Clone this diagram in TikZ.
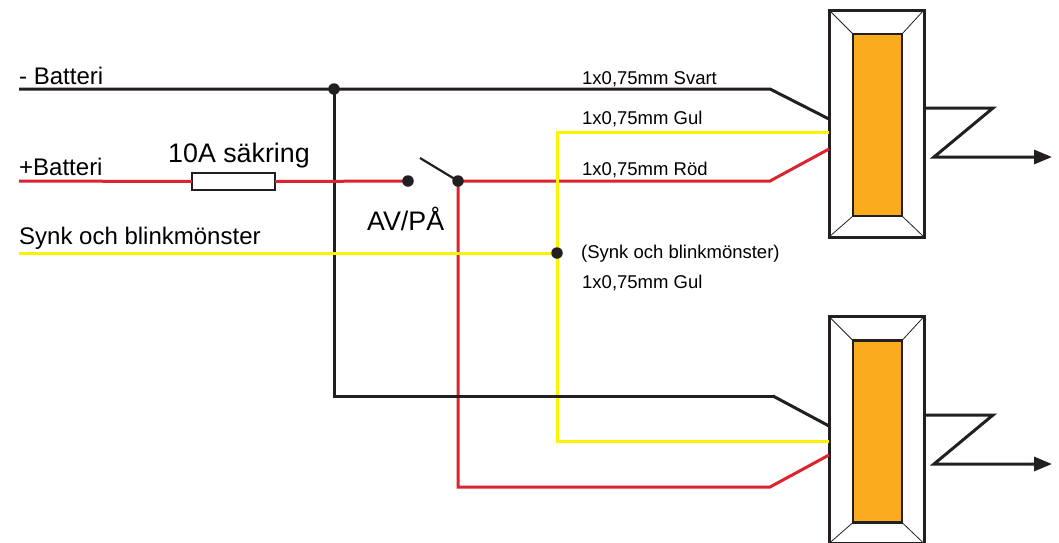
\documentclass[tikz,border=0pt]{standalone}
\usepackage{fontspec}
\setmainfont{Liberation Sans}
\usetikzlibrary{arrows.meta}
\definecolor{wireblack}{RGB}{35,31,32}
\definecolor{wirered}{RGB}{218,37,46}
\definecolor{wireyellow}{RGB}{255,242,0}
\definecolor{lamporange}{RGB}{251,171,30}
\tikzset{
  wire/.style={line width=3pt,line join=miter},
  blackwire/.style={wire,wireblack},
  redwire/.style={wire,wirered},
  yellowwire/.style={wire,wireyellow},
  junction/.style={circle,fill=wireblack,inner sep=0pt,minimum size=11.5pt},
  lampbox/.style={draw=wireblack,line width=3pt,fill=white,minimum width=95pt,minimum height=227pt,inner sep=0pt,outer sep=0pt},
  lampcore/.style={draw=wireblack,line width=2.2pt,fill=lamporange,minimum width=49pt,minimum height=182pt,inner sep=0pt,outer sep=0pt},
  fusebox/.style={draw=wireblack,line width=2pt,fill=white,minimum width=83pt,minimum height=17pt,inner sep=0pt,outer sep=0pt},
  sidetext/.style={font=\fontsize{24}{28}\selectfont,inner sep=0pt,anchor=base west},
  bigtext/.style={font=\fontsize{26.8}{30}\selectfont,inner sep=0pt,anchor=base west},
  smalltext/.style={font=\fontsize{18.5}{22}\selectfont,inner sep=0pt,anchor=base west}
}
\begin{document}
\begin{tikzpicture}[x=1pt,y=-1pt]
\useasboundingbox (0,0) rectangle (1059,542);
\clip (0,0) rectangle (1059,542);
% lamps
\foreach \n/\y in {1/123.5,2/430}{
\node[lampbox] (lamp\n) at (876.5,\y) {};
\node[lampcore] (core\n) at (877.5,\y+1.5) {};
\foreach \c in {north west,north east,south west,south east}
\draw[wireblack,line width=0.8pt] (lamp\n.\c) -- (core\n.\c);
}
% coordinates
\coordinate (negin) at (19,89);
\coordinate (negjoin) at (334,89);
\coordinate (negbend) at (770,89);
\coordinate (negend) at (829,119);
\coordinate (negcorner) at (334,396);
\coordinate (posin) at (19,181);
\coordinate (posbend) at (770,181);
\coordinate (posend) at (829,149);
\coordinate (syncin) at (19,253);
\coordinate (syncjoin) at (557,253);
\coordinate (gulend) at (829,132);
\coordinate (gulendb) at (829,441);
\coordinate (negbendb) at (773,396);
\coordinate (negendb) at (829,426);
\coordinate (posbendb) at (770,487);
\coordinate (posendb) at (829,455);
\coordinate (swin) at (408,181);
\coordinate (swout) at (458,181);
\coordinate (swarm) at (420,158);
\node[fusebox] (fuse) at (233.5,181.5) {};
% wires
\draw[blackwire] (negin) -- (negbend) -- (negend);
\draw[blackwire] (negjoin) -- (negcorner);
\draw[redwire] (posin) -- (fuse.west);
\draw[redwire] (fuse.east) -- (swin);
\draw[redwire] (swout) -- (posbend) -- (posend);
\draw[redwire] (swout) |- (posbendb) -- (posendb);
\draw[yellowwire] (syncin) -- (syncjoin);
\draw[yellowwire] (gulend) -| (syncjoin) |- (gulendb);
\draw[blackwire,line cap=rect] (negcorner) -- (negbendb);
\draw[blackwire] (negbendb) -- (negendb);
\draw[wireblack,line width=2.2pt] (swarm) -- (swout);
\node[junction] (negdot) at (negjoin) {};
\node[junction] (swa) at (swin) {};
\node[junction] (swb) at (swout) {};
\node[junction] (syncdot) at (syncjoin) {};
% light beams
\foreach \n/\y in {1/108,2/415}{
\coordinate (beamb\n) at (993,\y);
\coordinate (beamc\n) at (934,\y+49);
\coordinate (beamd\n) at (1052,\y+49);
\draw[blackwire,-{Triangle[length=18pt,width=14pt]}] (lamp\n.east |- beamb\n) -- (beamb\n) -- (beamc\n) -- (beamd\n);
}
% labels
\node[sidetext] (lblneg) at (19,84) {- Batteri};
\node[sidetext] (lblpos) at (19,175) {+Batteri};
\node[bigtext] (lblfuse) at (168,162) {10A säkring};
\node[bigtext] (lblsw) at (367,230) {AV/PÅ};
\node[sidetext] (lblsync) at (19,244) {Synk och blinkmönster};
\node[smalltext] (lblsvart) at (582,84) {1x0,75mm Svart};
\node[smalltext] (lblgula) at (582,124) {1x0,75mm Gul};
\node[smalltext] (lblrod) at (582,175) {1x0,75mm Röd};
\node[smalltext] (lblsyncb) at (581,258) {(Synk och blinkmönster)};
\node[smalltext] (lblgulb) at (582,288) {1x0,75mm Gul};
\end{tikzpicture}
\end{document}
